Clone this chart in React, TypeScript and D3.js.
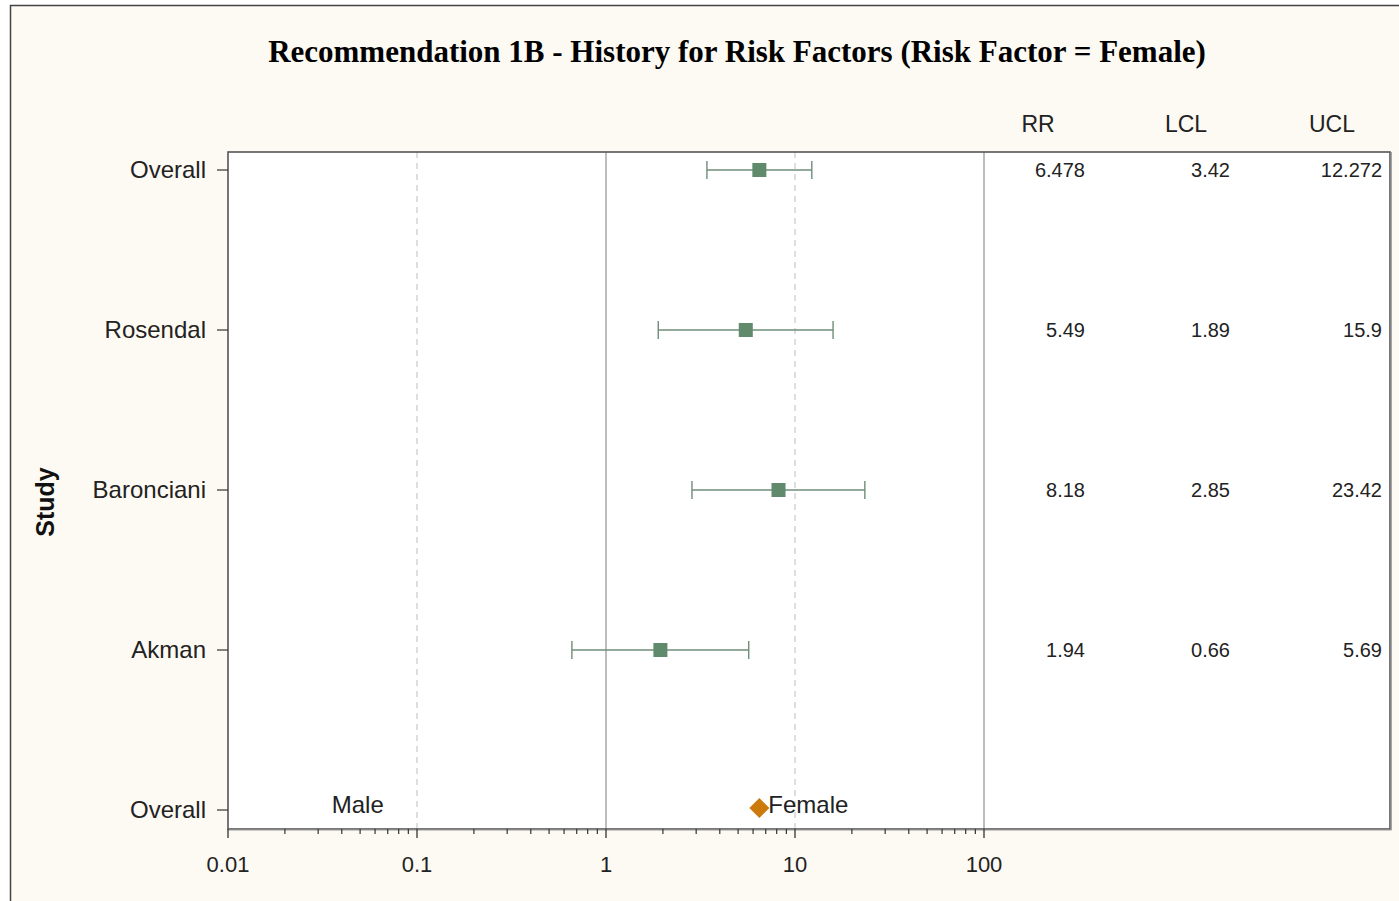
import React from "react";
import * as d3 from "d3";

const studies = ["Overall", "Rosendal", "Baronciani", "Akman"];
const rr = [6.478, 5.49, 8.18, 1.94];
const lcl = [3.42, 1.89, 2.85, 0.66];
const ucl = [12.272, 15.9, 23.42, 5.69];
const rrLabels = ["6.478", "5.49", "8.18", "1.94"];
const lclLabels = ["3.42", "1.89", "2.85", "0.66"];
const uclLabels = ["12.272", "15.9", "23.42", "5.69"];
const rowLabels = ["Overall", "Rosendal", "Baronciani", "Akman", "Overall"];
const xTicks = [0.01, 0.1, 1, 10, 100];
const xTickLabels = ["0.01", "0.1", "1", "10", "100"];
const tableHeaders = ["RR", "LCL", "UCL"];
const overallValue = 6.478;
const maleLabelAt = 0.0486;

export default function App() {
  const W = 1399, H = 901;
  const plotL = 228, plotR = 1390, plotT = 152, plotB = 829;
  const x = d3.scaleLog().domain([0.01, 100]).range([228, 984]);
  const y = d3.scaleLinear().domain([0, 4]).range([170, 810]);
  const minor: number[] = [];
  for (let e = -2; e < 2; e++) {
    for (let m = 2; m <= 9; m++) minor.push(m * Math.pow(10, e));
  }
  const green = "#5f8a6b";
  const barColor = "#6f8c78";
  const sans = "Arial, 'Liberation Sans', sans-serif";
  const colX = [1085, 1230, 1382];
  const headX = [1038, 1186, 1332];
  const tableVals = [rrLabels, lclLabels, uclLabels];
  return (
    <svg width={W} height={H} style={{ position: "fixed", left: 0, top: 0 }}>
      <rect x={0} y={0} width={W} height={H} fill="#ffffff" />
      <rect x={10.5} y={5.5} width={1400} height={910} fill="#fdfaf3" stroke="#444" strokeWidth={1.5} />
      <text x={737} y={62} textAnchor="middle" fontFamily="'Liberation Serif', 'Times New Roman', serif" fontWeight="bold" fontSize={31} fill="#000">
        Recommendation 1B - History for Risk Factors (Risk Factor = Female)
      </text>
      {/* plot area */}
      <rect x={plotL} y={plotT} width={plotR - plotL} height={plotB - plotT} fill="#ffffff" />
      {/* grid lines */}
      {[1, 100].map((v) => (
        <line key={"g" + v} x1={x(v)} x2={x(v)} y1={plotT} y2={plotB} stroke="#9a9a9a" strokeWidth={1.3} />
      ))}
      {[0.1, 10].map((v) => (
        <line key={"d" + v} x1={x(v)} x2={x(v)} y1={plotT} y2={plotB} stroke="#c8c8c8" strokeWidth={1.2} strokeDasharray="6,5" />
      ))}
      <rect x={plotL} y={plotT} width={plotR - plotL} height={plotB - plotT} fill="none" stroke="#555" strokeWidth={1.6} />
      <line x1={plotR + 1} x2={plotR + 1} y1={plotT} y2={plotB + 1} stroke="#888" strokeWidth={1.5} />
      <line x1={plotL} x2={plotR + 1.5} y1={plotB + 1} y2={plotB + 1} stroke="#999" strokeWidth={1} />
      {/* x ticks */}
      {xTicks.map((v, i) => (
        <g key={"xt" + i}>
          <line x1={x(v)} x2={x(v)} y1={plotB} y2={plotB + 9} stroke="#333" strokeWidth={1.3} />
          <text x={x(v)} y={872} textAnchor="middle" fontFamily={sans} fontSize={22} fill="#222">
            {xTickLabels[i]}
          </text>
        </g>
      ))}
      {minor.map((v, i) => (
        <line key={"mt" + i} x1={x(v)} x2={x(v)} y1={plotB} y2={plotB + 5} stroke="#333" strokeWidth={1.2} />
      ))}
      {/* y ticks */}
      {rowLabels.map((s, i) => (
        <g key={"yt" + i}>
          <line x1={plotL - 11} x2={plotL} y1={y(i)} y2={y(i)} stroke="#333" strokeWidth={1.2} />
          <text x={206} y={y(i) + 8} textAnchor="end" fontFamily={sans} fontSize={24} fill="#222">
            {s}
          </text>
        </g>
      ))}
      <text transform="translate(54,502) rotate(-90)" textAnchor="middle" fontFamily={sans} fontWeight="bold" fontSize={25} fill="#111">
        Study
      </text>
      {/* error bars & markers */}
      {studies.map((s, i) => (
        <g key={"m" + i}>
          <line x1={x(lcl[i])} x2={x(ucl[i])} y1={y(i)} y2={y(i)} stroke={barColor} strokeWidth={1.4} />
          <line x1={x(lcl[i])} x2={x(lcl[i])} y1={y(i) - 9} y2={y(i) + 9} stroke={barColor} strokeWidth={1.4} />
          <line x1={x(ucl[i])} x2={x(ucl[i])} y1={y(i) - 9} y2={y(i) + 9} stroke={barColor} strokeWidth={1.4} />
          <rect x={x(rr[i]) - 7} y={y(i) - 7} width={14} height={14} fill={green} />
        </g>
      ))}
      {/* overall diamond */}
      <path
        d={`M${x(overallValue)},${y(4) - 10} L${x(overallValue) + 10},${y(4)} L${x(overallValue)},${y(4) + 10} L${x(overallValue) - 10},${y(4)} Z`}
        transform="translate(0,-2)"
        fill="#cc7a0c"
      />
      <text x={x(overallValue) + 9} y={813} fontFamily={sans} fontSize={24} fill="#222">Female</text>
      <text x={x(maleLabelAt)} y={813} textAnchor="middle" fontFamily={sans} fontSize={24} fill="#222">Male</text>
      {/* table */}
      {tableHeaders.map((h, j) => (
        <text key={"h" + j} x={headX[j]} y={132} textAnchor="middle" fontFamily={sans} fontSize={23} fill="#222">
          {h}
        </text>
      ))}
      {tableVals.map((col, j) =>
        col.map((v, i) => (
          <text key={"v" + j + "-" + i} x={colX[j]} y={y(i) + 7} textAnchor="end" fontFamily={sans} fontSize={20} fill="#222">
            {v}
          </text>
        ))
      )}
    </svg>
  );
}
